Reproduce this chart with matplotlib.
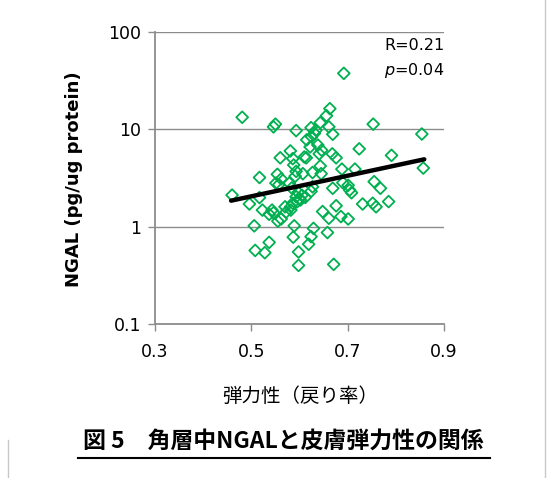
import numpy as np
import matplotlib.pyplot as plt
from matplotlib.lines import Line2D

# elasticity (recovery ratio) vs NGAL in stratum corneum
elasticity = [0.692, 0.481, 0.550, 0.546, 0.663, 0.656, 0.643, 0.753, 0.854, 0.593,
              0.634, 0.661, 0.669, 0.624, 0.615, 0.625, 0.631, 0.622, 0.638, 0.646,
              0.641, 0.668, 0.676, 0.581, 0.586, 0.614, 0.560, 0.588, 0.593, 0.591,
              0.627, 0.643, 0.645, 0.688, 0.715, 0.724, 0.791, 0.857, 0.517, 0.554,
              0.562, 0.551, 0.557, 0.579, 0.584, 0.597, 0.593, 0.586, 0.582, 0.602,
              0.624, 0.627, 0.669, 0.690, 0.701, 0.704, 0.708, 0.755, 0.768, 0.460,
              0.496, 0.517, 0.523, 0.543, 0.546, 0.537, 0.570, 0.572, 0.562, 0.555,
              0.582, 0.676, 0.648, 0.661, 0.686, 0.701, 0.731, 0.752, 0.759, 0.785,
              0.506, 0.589, 0.629, 0.587, 0.658, 0.624, 0.619, 0.537, 0.508, 0.528,
              0.598, 0.598, 0.671, 0.610, 0.607, 0.600, 0.605, 0.595, 0.612]
ngal = [37.6, 13.3, 11.3, 10.6, 16.3, 13.8, 11.7, 11.3, 8.95, 9.7,
        9.8, 10.6, 8.9, 10.4, 7.8, 8.4, 9.1, 6.6, 6.9, 6.1,
        5.6, 5.6, 5.1, 6.0, 5.0, 5.1, 5.1, 4.3, 3.7, 3.3,
        3.6, 4.2, 3.5, 3.9, 3.9, 6.3, 5.4, 4.0, 3.2, 3.45,
        3.1, 2.8, 2.7, 2.8, 2.5, 2.25, 2.03, 1.74, 1.60, 1.88,
        2.31, 2.57, 2.48, 2.83, 2.66, 2.38, 2.23, 2.90, 2.48, 2.11,
        1.71, 1.99, 1.48, 1.48, 1.39, 1.34, 1.60, 1.41, 1.20, 1.14,
        1.48, 1.64, 1.43, 1.22, 1.27, 1.20, 1.71, 1.74, 1.60, 1.81,
        1.02, 1.02, 0.96, 0.78, 0.87, 0.79, 0.66, 0.69, 0.57, 0.54,
        0.55, 0.40, 0.41, 5.2, 3.5, 1.95, 2.1, 1.80, 2.0]

trend_x = [0.458, 0.859]
trend_y = [1.85, 4.92]

xticks = [0.3, 0.5, 0.7, 0.9]
xticklabels = ['0.3', '0.5', '0.7', '0.9']
yticks = [0.1, 1, 10, 100]
yticklabels = ['0.1', '1', '10', '100']

cjk = ['Noto Sans CJK JP', 'DejaVu Sans']

fig = plt.figure(figsize=(5.5, 4.78), dpi=100)
ax = fig.add_axes([155 / 550, 1 - 324 / 478, (444 - 155) / 550, (324 - 32) / 478])

grid_c = '#8c8c8c'
ax.set_yscale('log')
ax.set_xlim(0.3, 0.9)
ax.set_ylim(0.1, 100)
ax.set_yticks(yticks)
ax.set_yticklabels(yticklabels)
ax.set_xticks(xticks)
ax.set_xticklabels(xticklabels)
ax.minorticks_off()
ax.yaxis.grid(True, color=grid_c, lw=1.0)
ax.set_axisbelow(True)
for s in ['top', 'right']:
    ax.spines[s].set_visible(False)
for s in ['left', 'bottom']:
    ax.spines[s].set_color(grid_c)
    ax.spines[s].set_linewidth(1.3)
ax.tick_params(axis='both', colors=grid_c, length=5, width=1.0, labelsize=12.5,
               labelcolor='black', pad=5)
ax.tick_params(axis='x', pad=9)

ax.scatter(elasticity, ngal, marker='D', s=36, facecolors='none',
           edgecolors='#00B050', linewidths=1.3, zorder=3)
ax.plot(trend_x, trend_y, color='black', lw=3.2, solid_capstyle='round', zorder=4)

ax.text(0.776, 73, 'R=0.21', fontsize=11.5, ha='left', va='center')
ax.text(0.776, 40.6, r'$\it{p}$=0.04', fontsize=11.5, ha='left', va='center')

ax.set_ylabel('NGAL (pg/ug protein)', fontsize=13, fontweight='bold')
ax.yaxis.set_label_coords(-0.25, 0.497)
fig.text(300 / 550, 1 - 397 / 478, '弾力性（戻り率）', family=cjk, fontsize=14,
         ha='center', va='center')
fig.text(283 / 550, 1 - 441 / 478, '図 5\u3000角層中NGALと皮膚弾力性の関係', family=cjk,
         fontsize=16.5, fontweight='bold', ha='center', va='center')
fig.add_artist(Line2D([78 / 550, 490 / 550], [1 - 458 / 478, 1 - 458 / 478],
                      color='black', lw=1.5))
fig.add_artist(Line2D([545 / 550, 545 / 550], [0, 1], color='#c8c8c8', lw=1.0))
fig.add_artist(Line2D([8 / 550, 8 / 550], [0, 1 - 440 / 478], color='#c8c8c8', lw=1.0))

fig.savefig('out.png', dpi=100)
